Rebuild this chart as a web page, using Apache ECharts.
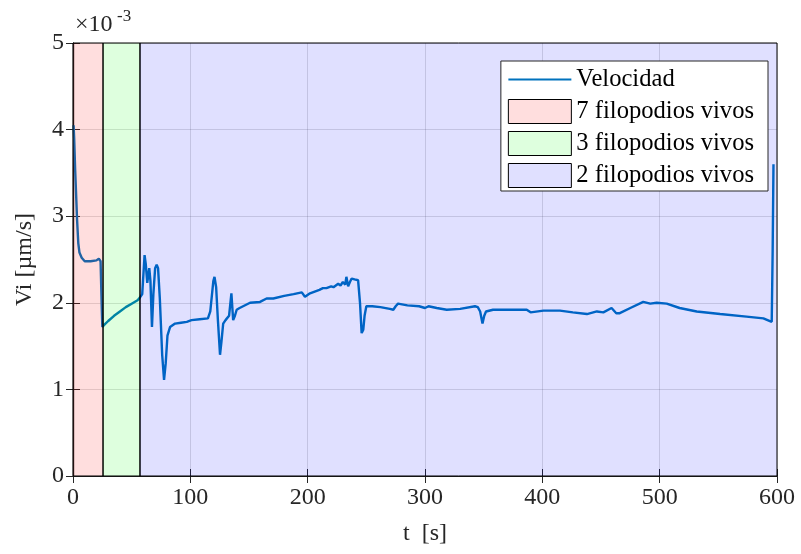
<!DOCTYPE html>
<html>
<head>
<meta charset="utf-8">
<title>Velocidad</title>
<script src="https://cdn.jsdelivr.net/npm/echarts@6/dist/echarts.min.js"></script>
<style>
  html, body { margin: 0; padding: 0; background: #fff; }
  #chart { width: 801px; height: 554px; }
</style>
</head>
<body>
<div id="chart"></div>
<script>
// Time samples [s]
const tiempo = [
  0.5, 1.0, 1.8, 2.6, 3.5, 4.5, 5.5, 7.4, 10, 15, 20, 22, 23.5, 24.5, 25, 27, 30, 35, 40, 45,
  50, 55, 57, 59, 61, 62, 63.3, 65, 66, 67.3, 68.5, 70, 71.3, 72.5, 74, 76, 77.6, 79, 80.5, 82.7,
  87, 92, 97, 101, 108, 115, 117, 119.6, 120.6, 122, 123.5, 125.3, 126.5, 128, 130, 133, 135, 136.5, 138, 139.5,
  142, 150.9, 159.4, 165, 170.7, 180, 188, 195, 197.7, 202, 210, 213, 216, 220, 222, 226, 228, 230, 232, 233,
  234.5, 236, 237.5, 240, 243, 244.6, 246, 247.4, 248.5, 250, 255, 262, 270, 273, 275, 277, 285, 295, 300, 303,
  310, 318.5, 330, 342.6, 345, 347, 349, 350.5, 352, 358, 364, 375, 386.7, 390, 401, 415, 426, 438, 446.5, 452,
  459, 463, 466, 475, 486, 492, 497.5, 506, 517, 531.6, 551.5, 574, 588.4, 595.5, 596.3, 597
];

// Velocity [x1e-3 µm/s]
const velocidad = [
  4.05, 3.90, 3.55, 3.27, 2.95, 2.69, 2.58, 2.52, 2.48, 2.48, 2.49, 2.51, 2.48, 1.95, 1.72, 1.75, 1.79, 1.85, 1.90, 1.95,
  1.99, 2.03, 2.06, 2.10, 2.55, 2.45, 2.23, 2.40, 2.25, 1.72, 2.10, 2.40, 2.44, 2.40, 2.05, 1.40, 1.11, 1.30, 1.62, 1.72,
  1.76, 1.77, 1.78, 1.80, 1.81, 1.82, 1.90, 2.25, 2.30, 2.18, 1.80, 1.40, 1.55, 1.76, 1.80, 1.85, 2.11, 1.80, 1.85, 1.92,
  1.94, 2.00, 2.01, 2.05, 2.05, 2.08, 2.10, 2.12, 2.07, 2.11, 2.15, 2.17, 2.17, 2.19, 2.18, 2.22, 2.20, 2.24, 2.21, 2.30,
  2.19, 2.24, 2.28, 2.27, 2.26, 2.00, 1.65, 1.69, 1.85, 1.96, 1.96, 1.95, 1.93, 1.92, 1.96, 1.99, 1.97, 1.96, 1.94, 1.96,
  1.94, 1.92, 1.93, 1.96, 1.95, 1.90, 1.76, 1.85, 1.90, 1.92, 1.92, 1.92, 1.92, 1.89, 1.91, 1.91, 1.89, 1.87, 1.90, 1.89,
  1.94, 1.88, 1.88, 1.94, 2.01, 1.99, 2.00, 1.99, 1.94, 1.90, 1.87, 1.84, 1.82, 1.78, 2.60, 3.60
];

// Phases: number of live filopodia
const faseNombres = ['7 filopodios vivos', '3 filopodios vivos', '2 filopodios vivos'];
const faseInicio = [0, 25.6, 57.1];
const faseFin = [25.6, 57.1, 600];
const faseColores = ['rgba(255,0,0,0.13)', 'rgba(0,255,0,0.13)', 'rgba(0,0,255,0.12)'];

// Axis ticks
const xTicks = [0, 100, 200, 300, 400, 500, 600];
const yTicks = [0, 1, 2, 3, 4, 5];

const FONT = '"Liberation Serif", "Times New Roman", serif';
const INK = '#262626';

const chart = echarts.init(document.getElementById('chart'), null, { renderer: 'canvas' });

const yMin = yTicks[0], yMax = yTicks[yTicks.length - 1];

// Translucent phase patches, drawn above the velocity trace
const faseSeries = faseNombres.map((nombre, i) => ({
  name: nombre,
  type: 'custom',
  z: 5,
  silent: true,
  itemStyle: { color: faseColores[i], borderColor: '#000', borderWidth: 1 },
  encode: { x: [0, 1], y: [2, 3] },
  data: [[faseInicio[i], faseFin[i], yMin, yMax]],
  renderItem: (params, api) => {
    const p0 = api.coord([api.value(0), api.value(3)]);
    const p1 = api.coord([api.value(1), api.value(2)]);
    return {
      type: 'rect',
      shape: { x: p0[0], y: p0[1], width: p1[0] - p0[0], height: p1[1] - p0[1] },
      style: { fill: faseColores[i], stroke: '#000', lineWidth: 1 }
    };
  }
}));

const axisCommon = {
  axisLine: { show: true, lineStyle: { color: INK, width: 1.2 } },
  axisTick: { show: true, inside: true, length: 7, lineStyle: { color: INK, width: 1 } }
};

const option = {
  animation: false,
  backgroundColor: '#fff',
  textStyle: { fontFamily: FONT },
  grid: { left: 73, right: 24, top: 43, bottom: 78, containLabel: false },
  xAxis: [
    {
      type: 'value', min: xTicks[0], max: xTicks[xTicks.length - 1], interval: 100,
      name: 't  [s]', nameLocation: 'middle', nameGap: 46,
      nameTextStyle: { fontFamily: FONT, fontSize: 24, color: INK },
      axisLabel: { fontFamily: FONT, fontSize: 24, color: INK, margin: 10 },
      splitLine: { show: true, lineStyle: { color: 'rgba(38,38,38,0.15)', width: 1 } },
      ...axisCommon
    },
    {
      type: 'value', position: 'top', min: xTicks[0], max: xTicks[xTicks.length - 1], interval: 100,
      axisLabel: { show: false }, splitLine: { show: false },
      ...axisCommon
    }
  ],
  yAxis: [
    {
      type: 'value', min: yMin, max: yMax, interval: 1,
      name: 'Vi [µm/s]', nameLocation: 'middle', nameGap: 36, nameRotate: 90,
      nameTextStyle: { fontFamily: FONT, fontSize: 24, color: INK },
      axisLabel: { fontFamily: FONT, fontSize: 24, color: INK, margin: 9 },
      splitLine: { show: true, lineStyle: { color: 'rgba(38,38,38,0.15)', width: 1 } },
      ...axisCommon
    },
    {
      type: 'value', position: 'right', min: yMin, max: yMax, interval: 1,
      axisLabel: { show: false }, splitLine: { show: false },
      ...axisCommon
    }
  ],
  legend: {
    z: 20,
    right: 33, top: 61,
    orient: 'vertical',
    backgroundColor: '#fff',
    borderColor: INK, borderWidth: 1, borderRadius: 0,
    padding: [6, 14, 3, 7],
    itemWidth: 63, itemHeight: 24, itemGap: 7,
    textStyle: { fontFamily: FONT, fontSize: 24.6, color: '#000' },
    data: [
      { name: 'Velocidad', icon: 'path://M0,0 L63,0 L63,2 L0,2 Z', itemStyle: { color: '#0072BD', borderWidth: 0 } },
      ...faseNombres.map((n, i) => ({ name: n, icon: 'rect', itemStyle: { color: faseColores[i], borderColor: '#000', borderWidth: 1 } }))
    ],
    selectedMode: false
  },
  graphic: [
    {
      type: 'text', left: 75, top: 13, z: 10,
      style: { text: '×10', font: '24px ' + FONT, fill: INK }
    },
    {
      type: 'text', left: 117, top: 8, z: 10,
      style: { text: '-3', font: '17px ' + FONT, fill: INK }
    }
  ],
  series: [
    {
      name: 'Velocidad',
      type: 'line',
      z: 2,
      symbol: 'none',
      smooth: false,
      lineStyle: { color: '#0072BD', width: 2.4 },
      itemStyle: { color: '#0072BD' },
      data: tiempo.map((t, i) => [t, velocidad[i]])
    },
    ...faseSeries
  ]
};

chart.setOption(option);
</script>
</body>
</html>
